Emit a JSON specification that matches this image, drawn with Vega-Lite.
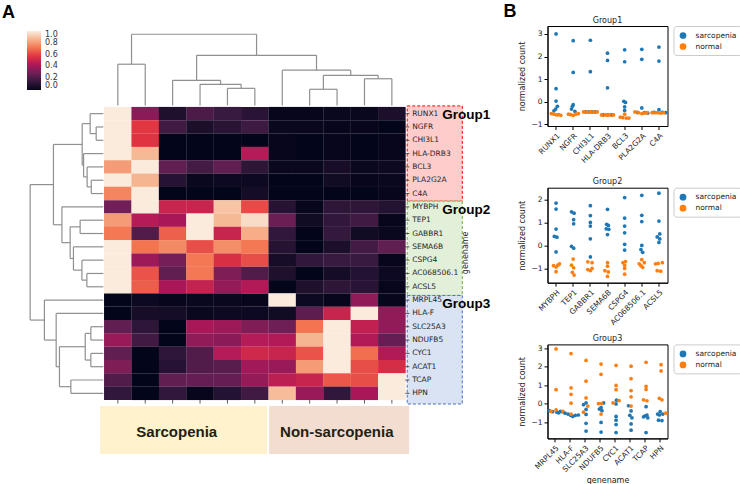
{
"$schema": "https://vega.github.io/schema/vega-lite/v6.json",
"padding": {"top": 3, "left": 0, "right": 0, "bottom": 0},
"background": "white",
"spacing": 6.5,
"config": {
  "font": "DejaVu Sans",
  "view": {"stroke": null},
  "axis": {"domainColor": "black", "tickColor": "black", "labelColor": "#222", "titleColor": "#222", "labelFont": "DejaVu Sans", "titleFont": "DejaVu Sans", "labelFontSize": 7.5, "titleFontSize": 8, "titleFontWeight": "normal", "tickSize": 3.5, "grid": false, "labelPadding": 2, "titlePadding": 4},
  "title": {"font": "DejaVu Sans", "fontSize": 8, "fontWeight": "normal", "color": "#222", "offset": 1}
},
"datasets": {
  "heat": [
    {"gene":"RUNX1","r":0.5,"s1":1.0,"s2":0.35,"s3":0.08,"s4":0.2,"s5":0.15,"s6":0.11,"s7":0.01,"s8":0.01,"s9":0.02,"s10":0.02,"s11":0.07},
    {"gene":"NGFR","r":1.5,"s1":1.0,"s2":0.58,"s3":0.17,"s4":0.07,"s5":0.11,"s6":0.16,"s7":0.02,"s8":0.02,"s9":0.01,"s10":0.01,"s11":0.0},
    {"gene":"CHI3L1","r":2.5,"s1":1.0,"s2":0.57,"s3":0.0,"s4":0.0,"s5":0.0,"s6":0.0,"s7":0.01,"s8":0.0,"s9":0.01,"s10":0.0,"s11":0.01},
    {"gene":"HLA-DRB3","r":3.5,"s1":1.0,"s2":0.87,"s3":0.0,"s4":0.0,"s5":0.0,"s6":0.45,"s7":0.01,"s8":0.0,"s9":0.01,"s10":0.0,"s11":0.01},
    {"gene":"BCL3","r":4.5,"s1":0.8,"s2":1.0,"s3":0.25,"s4":0.18,"s5":0.25,"s6":0.12,"s7":0.02,"s8":0.02,"s9":0.06,"s10":0.02,"s11":0.03},
    {"gene":"PLA2G2A","r":5.5,"s1":1.0,"s2":0.86,"s3":0.1,"s4":0.02,"s5":0.03,"s6":0.03,"s7":0.0,"s8":0.0,"s9":0.04,"s10":0.01,"s11":0.02},
    {"gene":"C4A","r":6.5,"s1":0.75,"s2":1.0,"s3":0.0,"s4":0.0,"s5":0.0,"s6":0.05,"s7":0.0,"s8":0.0,"s9":0.0,"s10":0.0,"s11":0.01},
    {"gene":"MYBPH","r":7.5,"s1":0.29,"s2":1.0,"s3":0.5,"s4":0.5,"s5":0.9,"s6":0.62,"s7":0.1,"s8":0.01,"s9":0.12,"s10":0.12,"s11":0.09},
    {"gene":"TEP1","r":8.5,"s1":0.8,"s2":0.45,"s3":0.42,"s4":1.0,"s5":0.87,"s6":0.96,"s7":0.27,"s8":0.04,"s9":0.13,"s10":0.17,"s11":0.01},
    {"gene":"GABBR1","r":9.5,"s1":0.72,"s2":0.21,"s3":0.67,"s4":1.0,"s5":0.5,"s6":0.84,"s7":0.13,"s8":0.0,"s9":0.14,"s10":0.04,"s11":0.02},
    {"gene":"SEMA6B","r":10.5,"s1":1.0,"s2":0.71,"s3":0.76,"s4":0.63,"s5":0.77,"s6":0.72,"s7":0.1,"s8":0.0,"s9":0.07,"s10":0.18,"s11":0.25},
    {"gene":"CSPG4","r":11.5,"s1":1.0,"s2":0.39,"s3":0.3,"s4":0.72,"s5":0.55,"s6":0.63,"s7":0.06,"s8":0.13,"s9":0.15,"s10":0.15,"s11":0.01},
    {"gene":"AC068506.1","r":12.5,"s1":1.0,"s2":0.64,"s3":0.25,"s4":0.72,"s5":0.32,"s6":0.21,"s7":0.08,"s8":0.0,"s9":0.05,"s10":0.09,"s11":0.03},
    {"gene":"ACSL5","r":13.5,"s1":1.0,"s2":0.66,"s3":0.42,"s4":0.49,"s5":0.37,"s6":0.44,"s7":0.0,"s8":0.08,"s9":0.12,"s10":0.11,"s11":0.01},
    {"gene":"MRPL45","r":14.5,"s1":0.0,"s2":0.03,"s3":0.01,"s4":0.02,"s5":0.02,"s6":0.01,"s7":1.0,"s8":0.03,"s9":0.01,"s10":0.36,"s11":0.01},
    {"gene":"HLA-F","r":15.5,"s1":0.0,"s2":0.06,"s3":0.05,"s4":0.02,"s5":0.03,"s6":0.03,"s7":0.04,"s8":0.24,"s9":0.5,"s10":1.0,"s11":0.36},
    {"gene":"SLC25A3","r":16.5,"s1":0.25,"s2":0.12,"s3":0.0,"s4":0.42,"s5":0.39,"s6":0.32,"s7":0.28,"s8":0.71,"s9":1.0,"s10":0.48,"s11":0.36},
    {"gene":"NDUFB5","r":17.5,"s1":0.38,"s2":0.17,"s3":0.0,"s4":0.36,"s5":0.35,"s6":0.45,"s7":0.44,"s8":0.86,"s9":1.0,"s10":0.44,"s11":0.26},
    {"gene":"CYC1","r":18.5,"s1":0.25,"s2":0.0,"s3":0.12,"s4":0.21,"s5":0.45,"s6":0.52,"s7":0.5,"s8":0.64,"s9":1.0,"s10":0.7,"s11":0.44},
    {"gene":"ACAT1","r":19.5,"s1":0.32,"s2":0.0,"s3":0.1,"s4":0.21,"s5":0.23,"s6":0.4,"s7":0.38,"s8":0.8,"s9":1.0,"s10":0.63,"s11":0.54},
    {"gene":"TCAP","r":20.5,"s1":0.21,"s2":0.0,"s3":0.25,"s4":0.26,"s5":0.26,"s6":0.37,"s7":0.47,"s8":0.5,"s9":0.65,"s10":0.63,"s11":1.0},
    {"gene":"HPN","r":21.5,"s1":0.13,"s2":0.0,"s3":0.13,"s4":0.01,"s5":0.09,"s6":0.17,"s7":0.88,"s8":0.38,"s9":0.13,"s10":0.42,"s11":1.0}
  ],
  "cols": [
    {"sample":"s1","c":0.5},{"sample":"s2","c":1.5},{"sample":"s3","c":2.5},{"sample":"s4","c":3.5},{"sample":"s5","c":4.5},{"sample":"s6","c":5.5},
    {"sample":"s7","c":6.5},{"sample":"s8","c":7.5},{"sample":"s9","c":8.5},{"sample":"s10","c":9.5},{"sample":"s11","c":10.5}
  ],
  "tdend": [
    {"xa":0.5,"xb":1.5,"ya":-0.12,"yb":-0.12,"h":-3.21},
    {"xa":4.5,"xb":5.5,"ya":-0.12,"yb":-0.12,"h":-1.40},
    {"xa":3.5,"xb":5.0,"ya":-0.12,"yb":-1.40,"h":-1.70},
    {"xa":2.5,"xb":4.25,"ya":-0.12,"yb":-1.70,"h":-2.00},
    {"xa":7.5,"xb":8.5,"ya":-0.12,"yb":-0.12,"h":-1.33},
    {"xa":9.5,"xb":10.5,"ya":-0.12,"yb":-0.12,"h":-2.12},
    {"xa":8.0,"xb":10.0,"ya":-1.33,"yb":-2.12,"h":-2.38},
    {"xa":6.5,"xb":9.0,"ya":-0.12,"yb":-2.38,"h":-2.76},
    {"xa":3.375,"xb":7.75,"ya":-2.00,"yb":-2.76,"h":-3.88},
    {"xa":1.0,"xb":5.5625,"ya":-3.21,"yb":-3.88,"h":-5.46}
  ],
  "ldend": [
    {"ya":1.5,"yb":2.5,"xa":-0.03,"xb":-0.03,"h":-0.29},
    {"ya":0.5,"yb":2.0,"xa":-0.03,"xb":-0.29,"h":-0.51},
    {"ya":5.5,"yb":6.5,"xa":-0.03,"xb":-0.03,"h":-0.47},
    {"ya":4.5,"yb":6.0,"xa":-0.03,"xb":-0.47,"h":-0.62},
    {"ya":3.5,"yb":5.25,"xa":-0.03,"xb":-0.62,"h":-0.75},
    {"ya":1.25,"yb":4.375,"xa":-0.51,"xb":-0.75,"h":-0.80},
    {"ya":8.5,"yb":9.5,"xa":-0.03,"xb":-0.03,"h":-0.876},
    {"ya":12.5,"yb":13.5,"xa":-0.03,"xb":-0.03,"h":-0.63},
    {"ya":11.5,"yb":13.0,"xa":-0.03,"xb":-0.63,"h":-0.81},
    {"ya":10.5,"yb":12.25,"xa":-0.03,"xb":-0.81,"h":-1.12},
    {"ya":9.0,"yb":11.375,"xa":-0.876,"xb":-1.12,"h":-1.24},
    {"ya":7.5,"yb":10.1875,"xa":-0.03,"xb":-1.24,"h":-1.54},
    {"ya":2.8125,"yb":8.84375,"xa":-0.80,"xb":-1.54,"h":-1.85},
    {"ya":16.5,"yb":17.5,"xa":-0.03,"xb":-0.03,"h":-0.485},
    {"ya":18.5,"yb":19.5,"xa":-0.03,"xb":-0.03,"h":-0.485},
    {"ya":17.0,"yb":19.0,"xa":-0.485,"xb":-0.485,"h":-0.69},
    {"ya":20.5,"yb":21.5,"xa":-0.03,"xb":-0.03,"h":-1.215},
    {"ya":18.0,"yb":21.0,"xa":-0.69,"xb":-1.215,"h":-1.63},
    {"ya":15.5,"yb":19.5,"xa":-0.03,"xb":-1.63,"h":-1.75},
    {"ya":14.5,"yb":17.5,"xa":-0.03,"xb":-1.75,"h":-2.18},
    {"ya":5.828,"yb":16.0,"xa":-1.85,"xb":-2.18,"h":-2.70}
  ],
  "groups": [
    {"group":"Group1","top":-0.08,"bottom":7.07},
    {"group":"Group2","top":7.07,"bottom":14.15},
    {"group":"Group3","top":14.15,"bottom":22.3}
  ],
  "conds": [
    {"cond":"Sarcopenia","c0":-0.15,"c1":5.95,"lx":2.65},
    {"cond":"Non-sarcopenia","c0":6.02,"c1":11.13,"lx":8.49}
  ],
  "strip": [
    {"g":1,"gene":"RUNX1","cond":"sarcopenia","v":3.0,"j":0},{"g":1,"gene":"RUNX1","cond":"sarcopenia","v":0.58,"j":0},{"g":1,"gene":"RUNX1","cond":"sarcopenia","v":0.03,"j":0},{"g":1,"gene":"RUNX1","cond":"sarcopenia","v":-0.2,"j":0.15},{"g":1,"gene":"RUNX1","cond":"sarcopenia","v":-0.32,"j":-0.05},{"g":1,"gene":"RUNX1","cond":"sarcopenia","v":-0.4,"j":-0.25},
    {"g":1,"gene":"RUNX1","cond":"normal","v":-0.52,"j":-0.55},{"g":1,"gene":"RUNX1","cond":"normal","v":-0.55,"j":-0.25},{"g":1,"gene":"RUNX1","cond":"normal","v":-0.58,"j":0.05},{"g":1,"gene":"RUNX1","cond":"normal","v":-0.57,"j":0.3},{"g":1,"gene":"RUNX1","cond":"normal","v":-0.6,"j":0.55},
    {"g":1,"gene":"NGFR","cond":"sarcopenia","v":2.7,"j":0},{"g":1,"gene":"NGFR","cond":"sarcopenia","v":1.3,"j":0},{"g":1,"gene":"NGFR","cond":"sarcopenia","v":-0.13,"j":0},{"g":1,"gene":"NGFR","cond":"sarcopenia","v":-0.2,"j":-0.1},{"g":1,"gene":"NGFR","cond":"sarcopenia","v":-0.32,"j":-0.2},{"g":1,"gene":"NGFR","cond":"sarcopenia","v":-0.42,"j":0.2},
    {"g":1,"gene":"NGFR","cond":"normal","v":-0.55,"j":-0.55},{"g":1,"gene":"NGFR","cond":"normal","v":-0.57,"j":-0.3},{"g":1,"gene":"NGFR","cond":"normal","v":-0.6,"j":0},{"g":1,"gene":"NGFR","cond":"normal","v":-0.55,"j":0.3},{"g":1,"gene":"NGFR","cond":"normal","v":-0.52,"j":0.6},
    {"g":1,"gene":"CHI3L1","cond":"sarcopenia","v":2.72,"j":0},{"g":1,"gene":"CHI3L1","cond":"sarcopenia","v":1.33,"j":0},{"g":1,"gene":"CHI3L1","cond":"sarcopenia","v":-0.45,"j":-0.6},{"g":1,"gene":"CHI3L1","cond":"sarcopenia","v":-0.45,"j":-0.2},{"g":1,"gene":"CHI3L1","cond":"sarcopenia","v":-0.45,"j":0.2},{"g":1,"gene":"CHI3L1","cond":"sarcopenia","v":-0.45,"j":0.6},
    {"g":1,"gene":"CHI3L1","cond":"normal","v":-0.45,"j":-0.8},{"g":1,"gene":"CHI3L1","cond":"normal","v":-0.45,"j":-0.4},{"g":1,"gene":"CHI3L1","cond":"normal","v":-0.45,"j":0},{"g":1,"gene":"CHI3L1","cond":"normal","v":-0.45,"j":0.4},{"g":1,"gene":"CHI3L1","cond":"normal","v":-0.45,"j":0.8},
    {"g":1,"gene":"HLA-DRB3","cond":"sarcopenia","v":2.15,"j":0},{"g":1,"gene":"HLA-DRB3","cond":"sarcopenia","v":1.83,"j":0},{"g":1,"gene":"HLA-DRB3","cond":"sarcopenia","v":0.62,"j":0},{"g":1,"gene":"HLA-DRB3","cond":"sarcopenia","v":-0.58,"j":-0.5},{"g":1,"gene":"HLA-DRB3","cond":"sarcopenia","v":-0.58,"j":0},{"g":1,"gene":"HLA-DRB3","cond":"sarcopenia","v":-0.58,"j":0.5},
    {"g":1,"gene":"HLA-DRB3","cond":"normal","v":-0.58,"j":-0.7},{"g":1,"gene":"HLA-DRB3","cond":"normal","v":-0.58,"j":-0.25},{"g":1,"gene":"HLA-DRB3","cond":"normal","v":-0.58,"j":0.25},{"g":1,"gene":"HLA-DRB3","cond":"normal","v":-0.58,"j":0.7},{"g":1,"gene":"HLA-DRB3","cond":"normal","v":-0.58,"j":0},
    {"g":1,"gene":"BCL3","cond":"sarcopenia","v":2.3,"j":0},{"g":1,"gene":"BCL3","cond":"sarcopenia","v":1.77,"j":0},{"g":1,"gene":"BCL3","cond":"sarcopenia","v":0.02,"j":-0.1},{"g":1,"gene":"BCL3","cond":"sarcopenia","v":-0.03,"j":0.1},{"g":1,"gene":"BCL3","cond":"sarcopenia","v":-0.22,"j":0},{"g":1,"gene":"BCL3","cond":"sarcopenia","v":-0.38,"j":0},
    {"g":1,"gene":"BCL3","cond":"normal","v":-0.55,"j":0},{"g":1,"gene":"BCL3","cond":"normal","v":-0.68,"j":-0.5},{"g":1,"gene":"BCL3","cond":"normal","v":-0.7,"j":-0.2},{"g":1,"gene":"BCL3","cond":"normal","v":-0.72,"j":0.2},{"g":1,"gene":"BCL3","cond":"normal","v":-0.72,"j":0.5},
    {"g":1,"gene":"PLA2G2A","cond":"sarcopenia","v":2.32,"j":0},{"g":1,"gene":"PLA2G2A","cond":"sarcopenia","v":1.88,"j":0},{"g":1,"gene":"PLA2G2A","cond":"sarcopenia","v":-0.27,"j":0},{"g":1,"gene":"PLA2G2A","cond":"sarcopenia","v":-0.47,"j":-0.5},{"g":1,"gene":"PLA2G2A","cond":"sarcopenia","v":-0.48,"j":0.3},{"g":1,"gene":"PLA2G2A","cond":"sarcopenia","v":-0.5,"j":0.7},
    {"g":1,"gene":"PLA2G2A","cond":"normal","v":-0.45,"j":-0.8},{"g":1,"gene":"PLA2G2A","cond":"normal","v":-0.48,"j":-0.4},{"g":1,"gene":"PLA2G2A","cond":"normal","v":-0.52,"j":0},{"g":1,"gene":"PLA2G2A","cond":"normal","v":-0.5,"j":0.3},{"g":1,"gene":"PLA2G2A","cond":"normal","v":-0.48,"j":0.6},
    {"g":1,"gene":"C4A","cond":"sarcopenia","v":2.42,"j":0},{"g":1,"gene":"C4A","cond":"sarcopenia","v":1.8,"j":0},{"g":1,"gene":"C4A","cond":"sarcopenia","v":-0.35,"j":0},{"g":1,"gene":"C4A","cond":"sarcopenia","v":-0.47,"j":-0.6},{"g":1,"gene":"C4A","cond":"sarcopenia","v":-0.47,"j":0.4},{"g":1,"gene":"C4A","cond":"sarcopenia","v":-0.48,"j":0.8},
    {"g":1,"gene":"C4A","cond":"normal","v":-0.48,"j":-0.8},{"g":1,"gene":"C4A","cond":"normal","v":-0.48,"j":-0.4},{"g":1,"gene":"C4A","cond":"normal","v":-0.48,"j":-0.1},{"g":1,"gene":"C4A","cond":"normal","v":-0.5,"j":0.2},{"g":1,"gene":"C4A","cond":"normal","v":-0.48,"j":0.55},

    {"g":2,"gene":"MYBPH","cond":"sarcopenia","v":1.84,"j":0},{"g":2,"gene":"MYBPH","cond":"sarcopenia","v":1.58,"j":0},{"g":2,"gene":"MYBPH","cond":"sarcopenia","v":0.71,"j":0},{"g":2,"gene":"MYBPH","cond":"sarcopenia","v":0.39,"j":-0.2},{"g":2,"gene":"MYBPH","cond":"sarcopenia","v":0.36,"j":0.1},{"g":2,"gene":"MYBPH","cond":"sarcopenia","v":-0.28,"j":0},
    {"g":2,"gene":"MYBPH","cond":"normal","v":-0.88,"j":-0.3},{"g":2,"gene":"MYBPH","cond":"normal","v":-0.94,"j":0},{"g":2,"gene":"MYBPH","cond":"normal","v":-0.86,"j":0.2},{"g":2,"gene":"MYBPH","cond":"normal","v":-0.8,"j":0.4},{"g":2,"gene":"MYBPH","cond":"normal","v":-1.14,"j":0},
    {"g":2,"gene":"TEP1","cond":"sarcopenia","v":1.46,"j":-0.2},{"g":2,"gene":"TEP1","cond":"sarcopenia","v":1.4,"j":0.1},{"g":2,"gene":"TEP1","cond":"sarcopenia","v":1.12,"j":0.05},{"g":2,"gene":"TEP1","cond":"sarcopenia","v":0.94,"j":0.05},{"g":2,"gene":"TEP1","cond":"sarcopenia","v":-0.04,"j":-0.2},{"g":2,"gene":"TEP1","cond":"sarcopenia","v":-0.12,"j":0.05},
    {"g":2,"gene":"TEP1","cond":"normal","v":-0.59,"j":0},{"g":2,"gene":"TEP1","cond":"normal","v":-0.86,"j":-0.2},{"g":2,"gene":"TEP1","cond":"normal","v":-0.97,"j":0.05},{"g":2,"gene":"TEP1","cond":"normal","v":-1.17,"j":-0.1},{"g":2,"gene":"TEP1","cond":"normal","v":-1.29,"j":0.1},
    {"g":2,"gene":"GABBR1","cond":"sarcopenia","v":1.73,"j":0},{"g":2,"gene":"GABBR1","cond":"sarcopenia","v":1.3,"j":0},{"g":2,"gene":"GABBR1","cond":"sarcopenia","v":1.0,"j":0},{"g":2,"gene":"GABBR1","cond":"sarcopenia","v":0.84,"j":0},{"g":2,"gene":"GABBR1","cond":"sarcopenia","v":0.29,"j":0},{"g":2,"gene":"GABBR1","cond":"sarcopenia","v":-0.5,"j":0},
    {"g":2,"gene":"GABBR1","cond":"normal","v":-0.71,"j":-0.3},{"g":2,"gene":"GABBR1","cond":"normal","v":-0.75,"j":0.2},{"g":2,"gene":"GABBR1","cond":"normal","v":-1.0,"j":0.2},{"g":2,"gene":"GABBR1","cond":"normal","v":-1.05,"j":-0.3},{"g":2,"gene":"GABBR1","cond":"normal","v":-1.09,"j":0},
    {"g":2,"gene":"SEMA6B","cond":"sarcopenia","v":1.57,"j":0},{"g":2,"gene":"SEMA6B","cond":"sarcopenia","v":0.92,"j":-0.1},{"g":2,"gene":"SEMA6B","cond":"sarcopenia","v":0.87,"j":0.1},{"g":2,"gene":"SEMA6B","cond":"sarcopenia","v":0.72,"j":-0.15},{"g":2,"gene":"SEMA6B","cond":"sarcopenia","v":0.7,"j":0.15},{"g":2,"gene":"SEMA6B","cond":"sarcopenia","v":0.47,"j":0},
    {"g":2,"gene":"SEMA6B","cond":"normal","v":-0.75,"j":0},{"g":2,"gene":"SEMA6B","cond":"normal","v":-0.9,"j":0},{"g":2,"gene":"SEMA6B","cond":"normal","v":-1.1,"j":-0.3},{"g":2,"gene":"SEMA6B","cond":"normal","v":-1.15,"j":0.1},{"g":2,"gene":"SEMA6B","cond":"normal","v":-1.35,"j":0},
    {"g":2,"gene":"CSPG4","cond":"sarcopenia","v":2.08,"j":0},{"g":2,"gene":"CSPG4","cond":"sarcopenia","v":1.19,"j":0},{"g":2,"gene":"CSPG4","cond":"sarcopenia","v":0.84,"j":0},{"g":2,"gene":"CSPG4","cond":"sarcopenia","v":0.55,"j":0},{"g":2,"gene":"CSPG4","cond":"sarcopenia","v":0.05,"j":0},{"g":2,"gene":"CSPG4","cond":"sarcopenia","v":-0.2,"j":0},
    {"g":2,"gene":"CSPG4","cond":"normal","v":-0.7,"j":0.1},{"g":2,"gene":"CSPG4","cond":"normal","v":-0.75,"j":-0.2},{"g":2,"gene":"CSPG4","cond":"normal","v":-0.87,"j":0},{"g":2,"gene":"CSPG4","cond":"normal","v":-1.0,"j":0},{"g":2,"gene":"CSPG4","cond":"normal","v":-1.25,"j":0},
    {"g":2,"gene":"AC068506.1","cond":"sarcopenia","v":2.18,"j":0},{"g":2,"gene":"AC068506.1","cond":"sarcopenia","v":1.31,"j":0},{"g":2,"gene":"AC068506.1","cond":"sarcopenia","v":1.04,"j":0},{"g":2,"gene":"AC068506.1","cond":"sarcopenia","v":0.0,"j":0},{"g":2,"gene":"AC068506.1","cond":"sarcopenia","v":-0.18,"j":-0.1},{"g":2,"gene":"AC068506.1","cond":"sarcopenia","v":-0.3,"j":0.1},
    {"g":2,"gene":"AC068506.1","cond":"normal","v":-0.62,"j":0},{"g":2,"gene":"AC068506.1","cond":"normal","v":-0.75,"j":0.3},{"g":2,"gene":"AC068506.1","cond":"normal","v":-0.8,"j":-0.3},{"g":2,"gene":"AC068506.1","cond":"normal","v":-0.88,"j":-0.1},{"g":2,"gene":"AC068506.1","cond":"normal","v":-0.95,"j":0.1},
    {"g":2,"gene":"ACSL5","cond":"sarcopenia","v":2.27,"j":0},{"g":2,"gene":"ACSL5","cond":"sarcopenia","v":1.06,"j":0},{"g":2,"gene":"ACSL5","cond":"sarcopenia","v":0.5,"j":0.1},{"g":2,"gene":"ACSL5","cond":"sarcopenia","v":0.37,"j":-0.2},{"g":2,"gene":"ACSL5","cond":"sarcopenia","v":0.28,"j":0.1},{"g":2,"gene":"ACSL5","cond":"sarcopenia","v":0.13,"j":0},
    {"g":2,"gene":"ACSL5","cond":"normal","v":-0.75,"j":0.4},{"g":2,"gene":"ACSL5","cond":"normal","v":-0.78,"j":-0.1},{"g":2,"gene":"ACSL5","cond":"normal","v":-0.8,"j":-0.4},{"g":2,"gene":"ACSL5","cond":"normal","v":-1.1,"j":-0.2},{"g":2,"gene":"ACSL5","cond":"normal","v":-1.12,"j":0.2},

    {"g":3,"gene":"MRPL45","cond":"sarcopenia","v":-0.37,"j":-0.8},{"g":3,"gene":"MRPL45","cond":"sarcopenia","v":-0.42,"j":-0.4},{"g":3,"gene":"MRPL45","cond":"sarcopenia","v":-0.45,"j":0.1},{"g":3,"gene":"MRPL45","cond":"sarcopenia","v":-0.48,"j":0.3},{"g":3,"gene":"MRPL45","cond":"sarcopenia","v":-0.4,"j":0.5},{"g":3,"gene":"MRPL45","cond":"sarcopenia","v":-0.42,"j":0.7},
    {"g":3,"gene":"MRPL45","cond":"normal","v":2.97,"j":0},{"g":3,"gene":"MRPL45","cond":"normal","v":0.77,"j":0},{"g":3,"gene":"MRPL45","cond":"normal","v":-0.32,"j":0},{"g":3,"gene":"MRPL45","cond":"normal","v":-0.4,"j":-0.6},{"g":3,"gene":"MRPL45","cond":"normal","v":-0.4,"j":0.8},
    {"g":3,"gene":"HLA-F","cond":"sarcopenia","v":-0.5,"j":-0.7},{"g":3,"gene":"HLA-F","cond":"sarcopenia","v":-0.55,"j":-0.35},{"g":3,"gene":"HLA-F","cond":"sarcopenia","v":-0.62,"j":-0.05},{"g":3,"gene":"HLA-F","cond":"sarcopenia","v":-0.68,"j":0.2},{"g":3,"gene":"HLA-F","cond":"sarcopenia","v":-0.62,"j":0.5},{"g":3,"gene":"HLA-F","cond":"sarcopenia","v":-0.6,"j":0.85},
    {"g":3,"gene":"HLA-F","cond":"normal","v":2.72,"j":0},{"g":3,"gene":"HLA-F","cond":"normal","v":0.87,"j":0},{"g":3,"gene":"HLA-F","cond":"normal","v":0.52,"j":0},{"g":3,"gene":"HLA-F","cond":"normal","v":0.04,"j":0},{"g":3,"gene":"HLA-F","cond":"normal","v":-0.55,"j":0},
    {"g":3,"gene":"SLC25A3","cond":"sarcopenia","v":0.05,"j":0},{"g":3,"gene":"SLC25A3","cond":"sarcopenia","v":-0.04,"j":-0.3},{"g":3,"gene":"SLC25A3","cond":"sarcopenia","v":-0.3,"j":0},{"g":3,"gene":"SLC25A3","cond":"sarcopenia","v":-0.57,"j":0},{"g":3,"gene":"SLC25A3","cond":"sarcopenia","v":-1.05,"j":0},{"g":3,"gene":"SLC25A3","cond":"sarcopenia","v":-1.47,"j":0},
    {"g":3,"gene":"SLC25A3","cond":"normal","v":2.35,"j":0},{"g":3,"gene":"SLC25A3","cond":"normal","v":1.23,"j":0},{"g":3,"gene":"SLC25A3","cond":"normal","v":0.32,"j":0},{"g":3,"gene":"SLC25A3","cond":"normal","v":-0.12,"j":0.2},{"g":3,"gene":"SLC25A3","cond":"normal","v":-0.45,"j":-0.3},
    {"g":3,"gene":"NDUFB5","cond":"sarcopenia","v":0.05,"j":0.3},{"g":3,"gene":"NDUFB5","cond":"sarcopenia","v":-0.2,"j":0},{"g":3,"gene":"NDUFB5","cond":"sarcopenia","v":-0.28,"j":-0.2},{"g":3,"gene":"NDUFB5","cond":"sarcopenia","v":-0.37,"j":0.1},{"g":3,"gene":"NDUFB5","cond":"sarcopenia","v":-1.0,"j":0},{"g":3,"gene":"NDUFB5","cond":"sarcopenia","v":-1.52,"j":0},
    {"g":3,"gene":"NDUFB5","cond":"normal","v":2.15,"j":0},{"g":3,"gene":"NDUFB5","cond":"normal","v":1.6,"j":0},{"g":3,"gene":"NDUFB5","cond":"normal","v":0.02,"j":-0.3},{"g":3,"gene":"NDUFB5","cond":"normal","v":0.02,"j":0.05},{"g":3,"gene":"NDUFB5","cond":"normal","v":-0.55,"j":0},
    {"g":3,"gene":"CYC1","cond":"sarcopenia","v":0.2,"j":0.05},{"g":3,"gene":"CYC1","cond":"sarcopenia","v":0.0,"j":0},{"g":3,"gene":"CYC1","cond":"sarcopenia","v":-0.68,"j":0},{"g":3,"gene":"CYC1","cond":"sarcopenia","v":-0.88,"j":0},{"g":3,"gene":"CYC1","cond":"sarcopenia","v":-1.12,"j":0},{"g":3,"gene":"CYC1","cond":"sarcopenia","v":-1.55,"j":0},
    {"g":3,"gene":"CYC1","cond":"normal","v":2.08,"j":0},{"g":3,"gene":"CYC1","cond":"normal","v":1.0,"j":0},{"g":3,"gene":"CYC1","cond":"normal","v":0.77,"j":0},{"g":3,"gene":"CYC1","cond":"normal","v":0.05,"j":-0.35},{"g":3,"gene":"CYC1","cond":"normal","v":0.18,"j":0.35},
    {"g":3,"gene":"ACAT1","cond":"sarcopenia","v":-0.1,"j":-0.3},{"g":3,"gene":"ACAT1","cond":"sarcopenia","v":-0.38,"j":0},{"g":3,"gene":"ACAT1","cond":"sarcopenia","v":-0.62,"j":-0.15},{"g":3,"gene":"ACAT1","cond":"sarcopenia","v":-0.75,"j":0.1},{"g":3,"gene":"ACAT1","cond":"sarcopenia","v":-1.08,"j":0},{"g":3,"gene":"ACAT1","cond":"sarcopenia","v":-1.42,"j":0},
    {"g":3,"gene":"ACAT1","cond":"normal","v":2.04,"j":0},{"g":3,"gene":"ACAT1","cond":"normal","v":1.36,"j":0},{"g":3,"gene":"ACAT1","cond":"normal","v":0.72,"j":0},{"g":3,"gene":"ACAT1","cond":"normal","v":0.38,"j":0},{"g":3,"gene":"ACAT1","cond":"normal","v":-0.12,"j":0},
    {"g":3,"gene":"TCAP","cond":"sarcopenia","v":-0.15,"j":0},{"g":3,"gene":"TCAP","cond":"sarcopenia","v":-0.6,"j":0.1},{"g":3,"gene":"TCAP","cond":"sarcopenia","v":-0.65,"j":-0.1},{"g":3,"gene":"TCAP","cond":"sarcopenia","v":-0.7,"j":-0.3},{"g":3,"gene":"TCAP","cond":"sarcopenia","v":-0.75,"j":0.2},{"g":3,"gene":"TCAP","cond":"sarcopenia","v":-1.55,"j":0},
    {"g":3,"gene":"TCAP","cond":"normal","v":2.25,"j":0},{"g":3,"gene":"TCAP","cond":"normal","v":0.95,"j":0},{"g":3,"gene":"TCAP","cond":"normal","v":0.78,"j":0},{"g":3,"gene":"TCAP","cond":"normal","v":0.22,"j":-0.3},{"g":3,"gene":"TCAP","cond":"normal","v":0.17,"j":0.1},
    {"g":3,"gene":"HPN","cond":"sarcopenia","v":-0.42,"j":-0.1},{"g":3,"gene":"HPN","cond":"sarcopenia","v":-0.55,"j":-0.4},{"g":3,"gene":"HPN","cond":"sarcopenia","v":-0.6,"j":-0.2},{"g":3,"gene":"HPN","cond":"sarcopenia","v":-0.88,"j":-0.3},{"g":3,"gene":"HPN","cond":"sarcopenia","v":-0.9,"j":0.1},{"g":3,"gene":"HPN","cond":"sarcopenia","v":-0.55,"j":0.2},
    {"g":3,"gene":"HPN","cond":"normal","v":2.12,"j":0},{"g":3,"gene":"HPN","cond":"normal","v":1.78,"j":0},{"g":3,"gene":"HPN","cond":"normal","v":0.3,"j":-0.2},{"g":3,"gene":"HPN","cond":"normal","v":0.22,"j":0.1},{"g":3,"gene":"HPN","cond":"normal","v":-0.5,"j":0.55}
  ]
},
"hconcat": [
  {
    "width": 496,
    "height": 437,
    "layer": [
      {
        "data": {"name": "heat"},
        "transform": [
          {"fold": ["s1","s2","s3","s4","s5","s6","s7","s8","s9","s10","s11"], "as": ["sample","value"]},
          {"lookup": "sample", "from": {"data": {"name": "cols"}, "key": "sample", "fields": ["c"]}}
        ],
        "mark": {"type": "rect", "width": 27.6, "height": 13.45},
        "encoding": {
          "x": {"field": "c", "type": "quantitative", "scale": {"domain": [-3.8, 14.3], "nice": false, "zero": false}, "axis": null},
          "y": {"field": "r", "type": "quantitative", "scale": {"domain": [-6.08, 26.73], "nice": false, "zero": false, "reverse": true}, "axis": null},
          "color": {"field": "value", "type": "quantitative",
            "scale": {"domain": [0, 0.142857, 0.285714, 0.428571, 0.571429, 0.714286, 0.857143, 1], "range": ["#03051a", "#35193e", "#701f57", "#ad1759", "#e13342", "#f37651", "#f6b48f", "#faebdd"], "interpolate": "rgb"},
            "legend": {"orient": "none", "legendX": 27, "legendY": 5, "direction": "vertical", "gradientLength": 59, "gradientThickness": 14, "title": null, "values": [0, 0.2, 0.4, 0.6, 0.8, 1.0], "format": ".1f", "labelOverlap": false, "labelFontSize": 8, "labelColor": "#333", "labelOffset": 4, "gradientStrokeWidth": 0, "labelFont": "DejaVu Sans"}}
        }
      },
      {
        "data": {"name": "tdend"},
        "mark": {"type": "rule", "color": "#909090", "strokeWidth": 1.2},
        "encoding": {"x": {"field": "xa", "type": "quantitative"}, "y": {"field": "ya", "type": "quantitative"}, "y2": {"field": "h"}}
      },
      {
        "data": {"name": "tdend"},
        "mark": {"type": "rule", "color": "#909090", "strokeWidth": 1.2},
        "encoding": {"x": {"field": "xb", "type": "quantitative"}, "y": {"field": "yb", "type": "quantitative"}, "y2": {"field": "h"}}
      },
      {
        "data": {"name": "tdend"},
        "mark": {"type": "rule", "color": "#909090", "strokeWidth": 1.2},
        "encoding": {"x": {"field": "xa", "type": "quantitative"}, "x2": {"field": "xb"}, "y": {"field": "h", "type": "quantitative"}}
      },
      {
        "data": {"name": "ldend"},
        "mark": {"type": "rule", "color": "#909090", "strokeWidth": 1.2},
        "encoding": {"y": {"field": "ya", "type": "quantitative"}, "x": {"field": "xa", "type": "quantitative"}, "x2": {"field": "h"}}
      },
      {
        "data": {"name": "ldend"},
        "mark": {"type": "rule", "color": "#909090", "strokeWidth": 1.2},
        "encoding": {"y": {"field": "yb", "type": "quantitative"}, "x": {"field": "xb", "type": "quantitative"}, "x2": {"field": "h"}}
      },
      {
        "data": {"name": "ldend"},
        "mark": {"type": "rule", "color": "#909090", "strokeWidth": 1.2},
        "encoding": {"y": {"field": "ya", "type": "quantitative"}, "y2": {"field": "yb"}, "x": {"field": "h", "type": "quantitative"}}
      },
      {
        "data": {"name": "groups"},
        "mark": {"type": "rect", "strokeDash": [3, 2], "strokeWidth": 1},
        "encoding": {
          "x": {"datum": 11.06, "type": "quantitative"}, "x2": {"datum": 13.07},
          "y": {"field": "top", "type": "quantitative"}, "y2": {"field": "bottom"},
          "fill": {"field": "group", "type": "nominal", "scale": {"domain": ["Group1","Group2","Group3","Sarcopenia","Non-sarcopenia"], "range": ["#ffcccc","#e2f0d9","#dae3f3","#fff2cc","#f3ddd0"]}, "legend": null},
          "stroke": {"field": "group", "type": "nominal", "scale": {"domain": ["Group1","Group2","Group3"], "range": ["#ff0000","#70ad47","#4472c4"]}, "legend": null}
        }
      },
      {
        "data": {"name": "cols"},
        "mark": {"type": "rule", "color": "#333", "strokeWidth": 0.8},
        "encoding": {"x": {"field": "c", "type": "quantitative"}, "y": {"datum": 22.0, "type": "quantitative"}, "y2": {"datum": 22.27}}
      },
      {
        "data": {"name": "heat"},
        "mark": {"type": "rule", "color": "#333", "strokeWidth": 0.8},
        "encoding": {"x": {"datum": 10.99, "type": "quantitative"}, "x2": {"datum": 11.14}, "y": {"field": "r", "type": "quantitative"}}
      },
      {
        "data": {"name": "heat"},
        "mark": {"type": "text", "align": "left", "baseline": "middle", "fontSize": 7.5, "font": "DejaVu Sans", "color": "#262626"},
        "encoding": {"x": {"datum": 11.24, "type": "quantitative"}, "y": {"field": "r", "type": "quantitative"}, "text": {"field": "gene"}}
      },
      {
        "data": {"name": "groups"},
        "mark": {"type": "text", "align": "left", "baseline": "middle", "dy": 9, "fontSize": 13.5, "font": "Liberation Sans", "fontWeight": "bold", "color": "#000"},
        "encoding": {"x": {"datum": 12.34, "type": "quantitative"}, "y": {"field": "top", "type": "quantitative"}, "text": {"field": "group"}}
      },
      {
        "data": {"values": [{"label": "genename"}]},
        "mark": {"type": "text", "align": "center", "baseline": "middle", "angle": 270, "fontSize": 8, "font": "DejaVu Sans", "color": "#262626"},
        "encoding": {"x": {"datum": 13.2, "type": "quantitative"}, "y": {"datum": 10.95, "type": "quantitative"}, "text": {"field": "label"}}
      },
      {
        "data": {"name": "conds"},
        "mark": {"type": "rect"},
        "encoding": {
          "x": {"field": "c0", "type": "quantitative"}, "x2": {"field": "c1"},
          "y": {"datum": 22.45, "type": "quantitative"}, "y2": {"datum": 26.05},
          "fill": {"field": "cond", "type": "nominal", "scale": {"domain": ["Group1","Group2","Group3","Sarcopenia","Non-sarcopenia"], "range": ["#ffcccc","#e2f0d9","#dae3f3","#fff2cc","#f3ddd0"]}, "legend": null}
        }
      },
      {
        "data": {"name": "conds"},
        "mark": {"type": "text", "align": "center", "baseline": "middle", "fontSize": 15, "font": "Liberation Sans", "fontWeight": "bold", "color": "#231f14"},
        "encoding": {"x": {"field": "lx", "type": "quantitative"}, "y": {"datum": 24.4, "type": "quantitative"}, "text": {"field": "cond"}}
      },
      {
        "data": {"values": [{"label": "A"}]},
        "mark": {"type": "text", "align": "center", "baseline": "middle", "fontSize": 18, "font": "Liberation Sans", "fontWeight": "bold", "color": "#000"},
        "encoding": {"x": {"datum": -3.49, "type": "quantitative"}, "y": {"datum": -7.06, "type": "quantitative"}, "text": {"field": "label"}}
      }
    ]
  },
  {
    "title": {"text": "B", "anchor": "start", "fontSize": 18, "font": "Liberation Sans", "fontWeight": "bold", "color": "#000", "offset": -5, "dx": -15},
    "data": {"name": "strip"},
    "spacing": 61.7,
    "bounds": "flush",
    "resolve": {"scale": {"color": "independent"}},
    "vconcat": [
      {
        "title": {"text": "Group1"},
        "width": 120, "height": 100,
        "view": {"stroke": "black", "strokeWidth": 1},
        "transform": [{"filter": "datum.g == 1"}],
        "mark": {"type": "circle", "size": 14, "opacity": 1},
        "encoding": {
          "x": {"field": "gene", "type": "nominal", "sort": null, "scale": {"paddingInner": 0, "paddingOuter": 0}, "axis": {"title": null, "labelAngle": -45}},
          "xOffset": {"field": "j", "type": "quantitative", "scale": {"domain": [-1, 1]}},
          "y": {"field": "v", "type": "quantitative", "scale": {"domain": [-1.07, 3.35], "nice": false, "zero": false}, "axis": {"title": "normalized count", "values": [-1, 0, 1, 2, 3]}},
          "color": {"field": "cond", "type": "nominal", "scale": {"domain": ["sarcopenia", "normal"], "range": ["#1f77b4", "#ff7f0e"]},
            "legend": {"title": null, "orient": "right", "offset": 6, "strokeColor": "#cccccc", "cornerRadius": 3, "padding": 5, "symbolType": "circle", "symbolSize": 45, "labelFontSize": 7.5, "labelFont": "DejaVu Sans", "labelColor": "#222", "rowPadding": 3, "labelOffset": 8}}
        }
      },
      {
        "title": {"text": "Group2"},
        "width": 120, "height": 95,
        "view": {"stroke": "black", "strokeWidth": 1},
        "transform": [{"filter": "datum.g == 2"}],
        "mark": {"type": "circle", "size": 14, "opacity": 1},
        "encoding": {
          "x": {"field": "gene", "type": "nominal", "sort": null, "scale": {"paddingInner": 0, "paddingOuter": 0}, "axis": {"title": null, "labelAngle": -45}},
          "xOffset": {"field": "j", "type": "quantitative", "scale": {"domain": [-1, 1]}},
          "y": {"field": "v", "type": "quantitative", "scale": {"domain": [-1.62, 2.51], "nice": false, "zero": false}, "axis": {"title": "normalized count", "values": [-1, 0, 1, 2]}},
          "color": {"field": "cond", "type": "nominal", "scale": {"domain": ["sarcopenia", "normal"], "range": ["#1f77b4", "#ff7f0e"]},
            "legend": {"title": null, "orient": "right", "offset": 6, "strokeColor": "#cccccc", "cornerRadius": 3, "padding": 5, "symbolType": "circle", "symbolSize": 45, "labelFontSize": 7.5, "labelFont": "DejaVu Sans", "labelColor": "#222", "rowPadding": 3, "labelOffset": 8}}
        }
      },
      {
        "title": {"text": "Group3"},
        "width": 120, "height": 94,
        "view": {"stroke": "black", "strokeWidth": 1},
        "transform": [{"filter": "datum.g == 3"}],
        "mark": {"type": "circle", "size": 14, "opacity": 1},
        "encoding": {
          "x": {"field": "gene", "type": "nominal", "sort": null, "scale": {"paddingInner": 0, "paddingOuter": 0}, "axis": {"title": "genename", "labelAngle": -45}},
          "xOffset": {"field": "j", "type": "quantitative", "scale": {"domain": [-1, 1]}},
          "y": {"field": "v", "type": "quantitative", "scale": {"domain": [-1.865, 3.216], "nice": false, "zero": false}, "axis": {"title": "normalized count", "values": [-1, 0, 1, 2, 3]}},
          "color": {"field": "cond", "type": "nominal", "scale": {"domain": ["sarcopenia", "normal"], "range": ["#1f77b4", "#ff7f0e"]},
            "legend": {"title": null, "orient": "right", "offset": 6, "strokeColor": "#cccccc", "cornerRadius": 3, "padding": 5, "symbolType": "circle", "symbolSize": 45, "labelFontSize": 7.5, "labelFont": "DejaVu Sans", "labelColor": "#222", "rowPadding": 3, "labelOffset": 8}}
        }
      }
    ]
  }
]
}
